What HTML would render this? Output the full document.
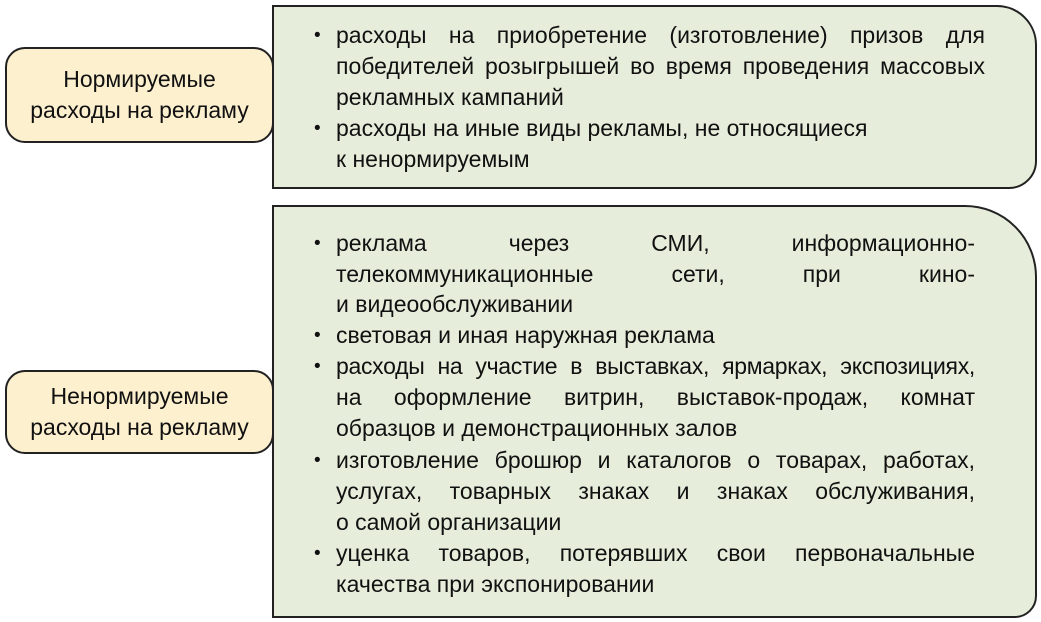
<!DOCTYPE html>
<html><head><meta charset="utf-8"><style>
body{margin:0;width:1041px;height:622px;background:#fff;position:relative;overflow:hidden;font-family:"Liberation Sans",sans-serif;color:#111}
.b{position:absolute;box-sizing:border-box;border:2px solid #222}
.y{background:#fdf0cf;border-radius:20px;display:flex;align-items:center;justify-content:center;text-align:center;font-size:23px;line-height:31px}
.g{background:#e6eedb}
.l{position:absolute;font-size:23px;line-height:31px;white-space:nowrap}
.j{text-align:justify;text-align-last:justify;white-space:normal}
.d{position:absolute;font-size:19px;line-height:31px}
</style></head><body>
<div class="b g" style="left:272px;top:5px;width:765px;height:184px;border-radius:0 40px 28px 0"></div>
<div class="b g" style="left:272px;top:205px;width:765px;height:413px;border-radius:0 72px 22px 0"></div>
<div class="b y" style="left:5px;top:47px;width:269px;height:96px">Нормируемые<br>расходы на рекламу</div>
<div class="b y" style="left:5px;top:370px;width:269px;height:84px">Ненормируемые<br>расходы на рекламу</div>

<div class="d" style="left:314px;top:20px">•</div>
<div class="l j" style="left:336px;top:20px;width:649px">расходы на приобретение (изготовление) призов для</div>
<div class="l j" style="left:336px;top:51px;width:649px">победителей розыгрышей во время проведения массовых</div>
<div class="l" style="left:336px;top:82px">рекламных кампаний</div>
<div class="d" style="left:314px;top:113px">•</div>
<div class="l" style="left:336px;top:113px">расходы на иные виды рекламы, не относящиеся</div>
<div class="l" style="left:336px;top:144px">к ненормируемым</div>

<div class="d" style="left:314px;top:228px">•</div>
<div class="l j" style="left:336px;top:228px;width:639px">реклама через СМИ, информационно-</div>
<div class="l j" style="left:336px;top:259px;width:639px">телекоммуникационные сети, при кино-</div>
<div class="l" style="left:336px;top:289px">и видеообслуживании</div>
<div class="d" style="left:314px;top:320px">•</div>
<div class="l" style="left:336px;top:320px">световая и иная наружная реклама</div>
<div class="d" style="left:314px;top:351px">•</div>
<div class="l j" style="left:336px;top:351px;width:639px;letter-spacing:-0.3px">расходы на участие в выставках, ярмарках, экспозициях,</div>
<div class="l j" style="left:336px;top:382px;width:639px">на оформление витрин, выставок-продаж, комнат</div>
<div class="l" style="left:336px;top:413px">образцов и демонстрационных залов</div>
<div class="d" style="left:314px;top:445px">•</div>
<div class="l j" style="left:336px;top:445px;width:639px">изготовление брошюр и каталогов о товарах, работах,</div>
<div class="l j" style="left:336px;top:476px;width:639px">услугах, товарных знаках и знаках обслуживания,</div>
<div class="l" style="left:336px;top:507px">о самой организации</div>
<div class="d" style="left:314px;top:538px">•</div>
<div class="l j" style="left:336px;top:538px;width:639px">уценка товаров, потерявших свои первоначальные</div>
<div class="l" style="left:336px;top:569px">качества при экспонировании</div>
</body></html>
